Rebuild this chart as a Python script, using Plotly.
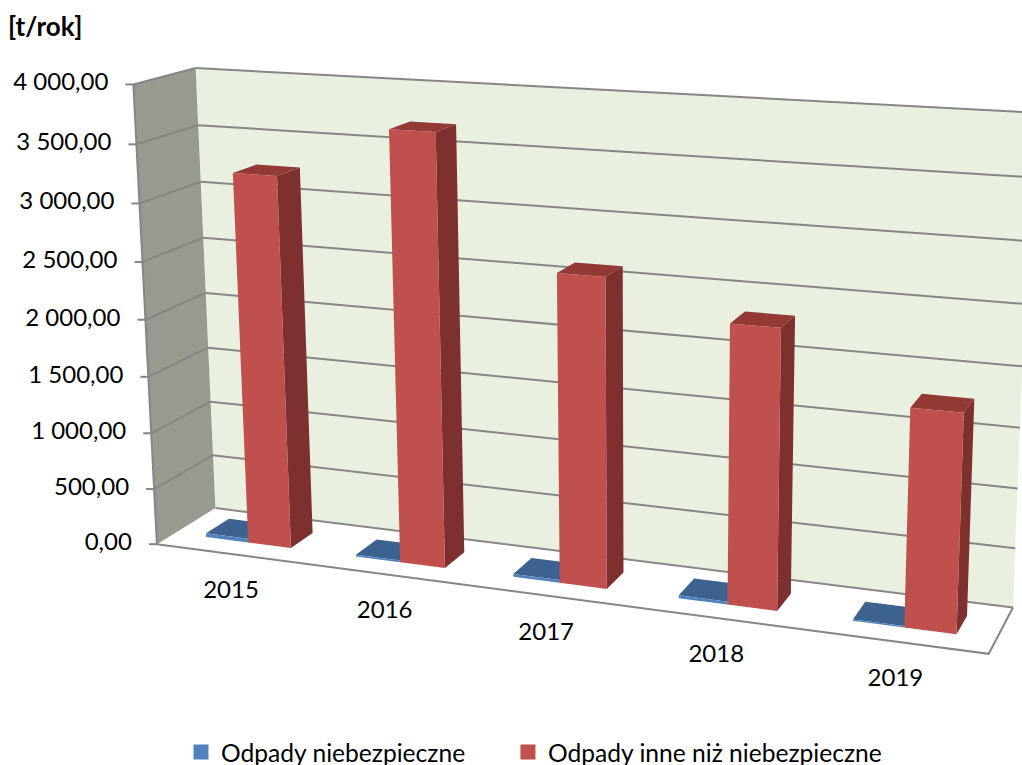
import numpy as np
import plotly.graph_objects as go

# ---------- data ----------
categories = ["2015", "2016", "2017", "2018", "2019"]
hazardous = [35, 15, 25, 25, 12]
other = [3250, 3700, 2620, 2330, 1790]
value_ticks = [0, 500, 1000, 1500, 2000, 2500, 3000, 3500, 4000]
tick_labels = ["0,00", "500,00", "1 000,00", "1 500,00", "2 000,00",
               "2 500,00", "3 000,00", "3 500,00", "4 000,00"]
series_names = ["Odpady niebezpieczne" + "\u00a0" * 6, "Odpady inne niż niebezpieczne"]
axis_max = 4000
title_text = "[t/rok]"

# ---------- colours ----------
C_BLUE, C_BLUE_TOP, C_BLUE_SIDE = "#4F81BD", "#3C6290", "#2F4E74"
C_RED, C_RED_TOP, C_RED_SIDE = "#C0504D", "#933A37", "#7D302E"
C_WALL, C_SIDE_WALL, C_GRID = "#EAF0DF", "#979A8E", "#868686"
FONT = "Lato"

# ---------- chart box (category, depth, value) as it lands on the page ----------
calib_box = [(0, 0, 0), (0, 1, 0), (5, 0, 0), (5, 1, 0),
             (0, 0, 4000), (0, 1, 4000), (5, 1, 4000)]
calib_page = [(157.3, 544), (215, 508.3), (988.7, 654), (1013, 607.3),
              (133, 84.5), (196, 68), (1032, 112.5)]

def norm(c, d, v):
    return c / 5.0, d, v / axis_max

rows = []
for b, p in zip(calib_box, calib_page):
    X = [*norm(*b), 1.0]
    u, w = p[0] / 1000.0, p[1] / 1000.0
    rows.append(X + [0, 0, 0, 0] + [-u * a for a in X])
    rows.append([0, 0, 0, 0] + X + [-w * a for a in X])
P = np.linalg.svd(np.array(rows))[2][-1].reshape(3, 4)

def proj(c, d, v):
    q = P @ np.array([*norm(c, d, v), 1.0])
    return 1000.0 * q[0] / q[2], 1000.0 * q[1] / q[2]

def poly(points):
    pts = [proj(*p) for p in points]
    pts.append(pts[0])
    return [p[0] for p in pts] + [None], [p[1] for p in pts] + [None]

def add_polys(fig, polys, color):
    xs, ys = [], []
    for pl in polys:
        a, b = poly(pl)
        xs += a
        ys += b
    fig.add_trace(go.Scatter(x=xs, y=ys, mode="none", fill="toself", fillcolor=color,
                             hoverinfo="skip", showlegend=False))

def add_lines(fig, segs, color=C_GRID, width=2):
    xs, ys = [], []
    for s in segs:
        for p in s:
            x, y = proj(*p)
            xs.append(x)
            ys.append(y)
        xs.append(None)
        ys.append(None)
    fig.add_trace(go.Scatter(x=xs, y=ys, mode="lines", line=dict(color=color, width=width),
                             hoverinfo="skip", showlegend=False))

fig = go.Figure()
N = len(categories)
top = axis_max

# walls and floor
add_polys(fig, [[(0, 1, 0), (N, 1, 0), (N, 1, top), (0, 1, top)]], C_WALL)
add_polys(fig, [[(0, 0, 0), (0, 1, 0), (0, 1, top), (0, 0, top)]], C_SIDE_WALL)

# gridlines
grid = []
for v in value_ticks:
    grid.append([(0, 1, v), (N, 1, v)])
    if v > 0:
        grid.append([(0, 0, v), (0, 1, v)])
grid.append([(0, 0, 0), (0, 0, top)])
grid.append([(0, 0, 0), (N, 0, 0), (N, 1, 0)])
add_lines(fig, grid)

# tick marks
tx, ty = [], []
for v in value_ticks:
    x, y = proj(0, 0, v)
    tx += [x - 8, x, None]
    ty += [y, y, None]
fig.add_trace(go.Scatter(x=tx, y=ty, mode="lines", line=dict(color=C_GRID, width=2),
                         hoverinfo="skip", showlegend=False))

# bars: gap width 150 % and gap depth 150 %
BAR_W = 1 / 3.5
BAR_X0 = 0.75 / 3.5
D0, D1 = 0.3, 0.7

def faces(values, offset):
    front, topf, side = [], [], []
    for i, v in enumerate(values):
        a = i + BAR_X0 + offset * BAR_W
        b = a + BAR_W
        front.append([(a, D0, 0), (b, D0, 0), (b, D0, v), (a, D0, v)])
        topf.append([(a, D0, v), (b, D0, v), (b, D1, v), (a, D1, v)])
        side.append([(b, D0, 0), (b, D1, 0), (b, D1, v), (b, D0, v)])
    return front, topf, side

for vals, off, cf, ct, cs in [(hazardous, 0, C_BLUE, C_BLUE_TOP, C_BLUE_SIDE),
                              (other, 1, C_RED, C_RED_TOP, C_RED_SIDE)]:
    fr, tp, sd = faces(vals, off)
    add_polys(fig, sd, cs)
    add_polys(fig, tp, ct)
    add_polys(fig, fr, cf)

# value labels
lx, ly = [], []
for v in value_ticks:
    x, y = proj(0, 0, v)
    lx.append(x - 25)
    ly.append(y)
fig.add_trace(go.Scatter(x=lx, y=ly, mode="text", text=tick_labels, textposition="middle left",
                         textfont=dict(family=FONT, size=24, color="#000000"),
                         hoverinfo="skip", showlegend=False))

# category labels
cx, cy = [], []
for i in range(N):
    x, y = proj(i + 0.5, 0, 0)
    cx.append(x)
    cy.append(y + 38)
fig.add_trace(go.Scatter(x=cx, y=cy, mode="text", text=categories, textposition="middle center",
                         textfont=dict(family=FONT, size=24, color="#000000"),
                         hoverinfo="skip", showlegend=False))

# legend entries
for name, col in zip(series_names, [C_BLUE, C_RED]):
    fig.add_trace(go.Scatter(x=[None], y=[None], mode="markers", name=name,
                             marker=dict(symbol="square", size=15, color=col)))

fig.update_layout(
    width=1022, height=765, margin=dict(l=0, r=0, t=0, b=0, autoexpand=False),
    paper_bgcolor="white", plot_bgcolor="white",
    xaxis=dict(range=[0, 1022], visible=False, fixedrange=True),
    yaxis=dict(range=[765, 0], visible=False, fixedrange=True),
    title=dict(text=title_text, x=8 / 1022, xanchor="left", xref="paper",
               y=1 - 27 / 765, yanchor="middle", yref="paper",
               font=dict(family=FONT, size=26, color="#000000", weight=700)),
    legend=dict(orientation="h", x=181 / 1022, xanchor="left", y=1 - 752 / 765, yanchor="middle",
                font=dict(family=FONT, size=24.6, color="#000000"),
                itemwidth=30, bgcolor="rgba(0,0,0,0)"),
)
fig.write_html("out.html", post_script="document.body.style.margin='0';",
               config=dict(displayModeBar=False))
